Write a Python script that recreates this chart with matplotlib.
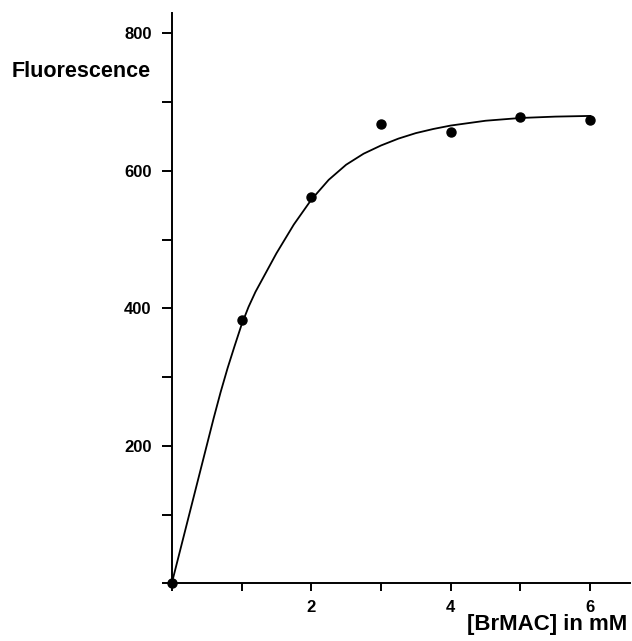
"""Fluorescence vs [BrMAC] saturation plot."""
import matplotlib
matplotlib.use("Agg")
import matplotlib.pyplot as plt
from matplotlib.ticker import MultipleLocator

plt.rcParams["font.family"] = ["Liberation Sans", "DejaVu Sans"]
plt.rcParams["font.weight"] = "bold"

# measured points
conc = [0, 1, 2, 3, 4, 5, 6]
fluor = [0, 383, 562, 668, 657, 678, 674]

# fitted curve
curve_x = [0, 0.25, 0.5, 0.6, 0.7, 0.8, 0.9, 1.0, 1.1, 1.2, 1.35, 1.5,
           1.75, 2.0, 2.25, 2.5, 2.75, 3.0, 3.25, 3.5, 3.75, 4.0, 4.5,
           5.0, 5.5, 6.0]
curve_y = [0, 100, 200, 240, 278, 313, 345, 376, 402, 424, 452, 480,
           522, 558, 587, 609, 625, 637, 647, 655, 661, 666, 673,
           677, 679, 680]

fig = plt.figure(figsize=(6.32, 6.41), dpi=100)
ax = fig.add_axes([0.2718, 0.090, 0.725, 0.890])

ax.plot(curve_x, curve_y, color="black", lw=1.3, solid_joinstyle="round")
ax.plot(conc, fluor, "o", color="black", ms=6.5, clip_on=False)

ax.set_xlim(0, 6.57)
ax.set_ylim(0, 830)
ax.xaxis.set_minor_locator(MultipleLocator(1))
ax.yaxis.set_minor_locator(MultipleLocator(100))
ax.set_xticks([2, 4, 6])
ax.set_yticks([200, 400, 600, 800])

for s in ("top", "right"):
    ax.spines[s].set_visible(False)
for s in ("left", "bottom"):
    ax.spines[s].set_linewidth(1.4)

ax.tick_params(which="both", direction="out", width=1.4)
ax.tick_params(axis="y", which="both", length=7.5, pad=7)
ax.tick_params(axis="x", which="both", length=6, pad=6)
ax.tick_params(labelsize=12)
for lab in ax.get_xticklabels() + ax.get_yticklabels():
    lab.set_fontweight("bold")

fig.text(0.238, 0.888, "Fluorescence", ha="right", va="center",
         fontsize=15.5, fontweight="bold")
fig.text(0.992, 0.025, "[BrMAC] in mM", ha="right", va="center",
         fontsize=16, fontweight="bold")

fig.savefig("out.png", dpi=100)
plt.close(fig)
